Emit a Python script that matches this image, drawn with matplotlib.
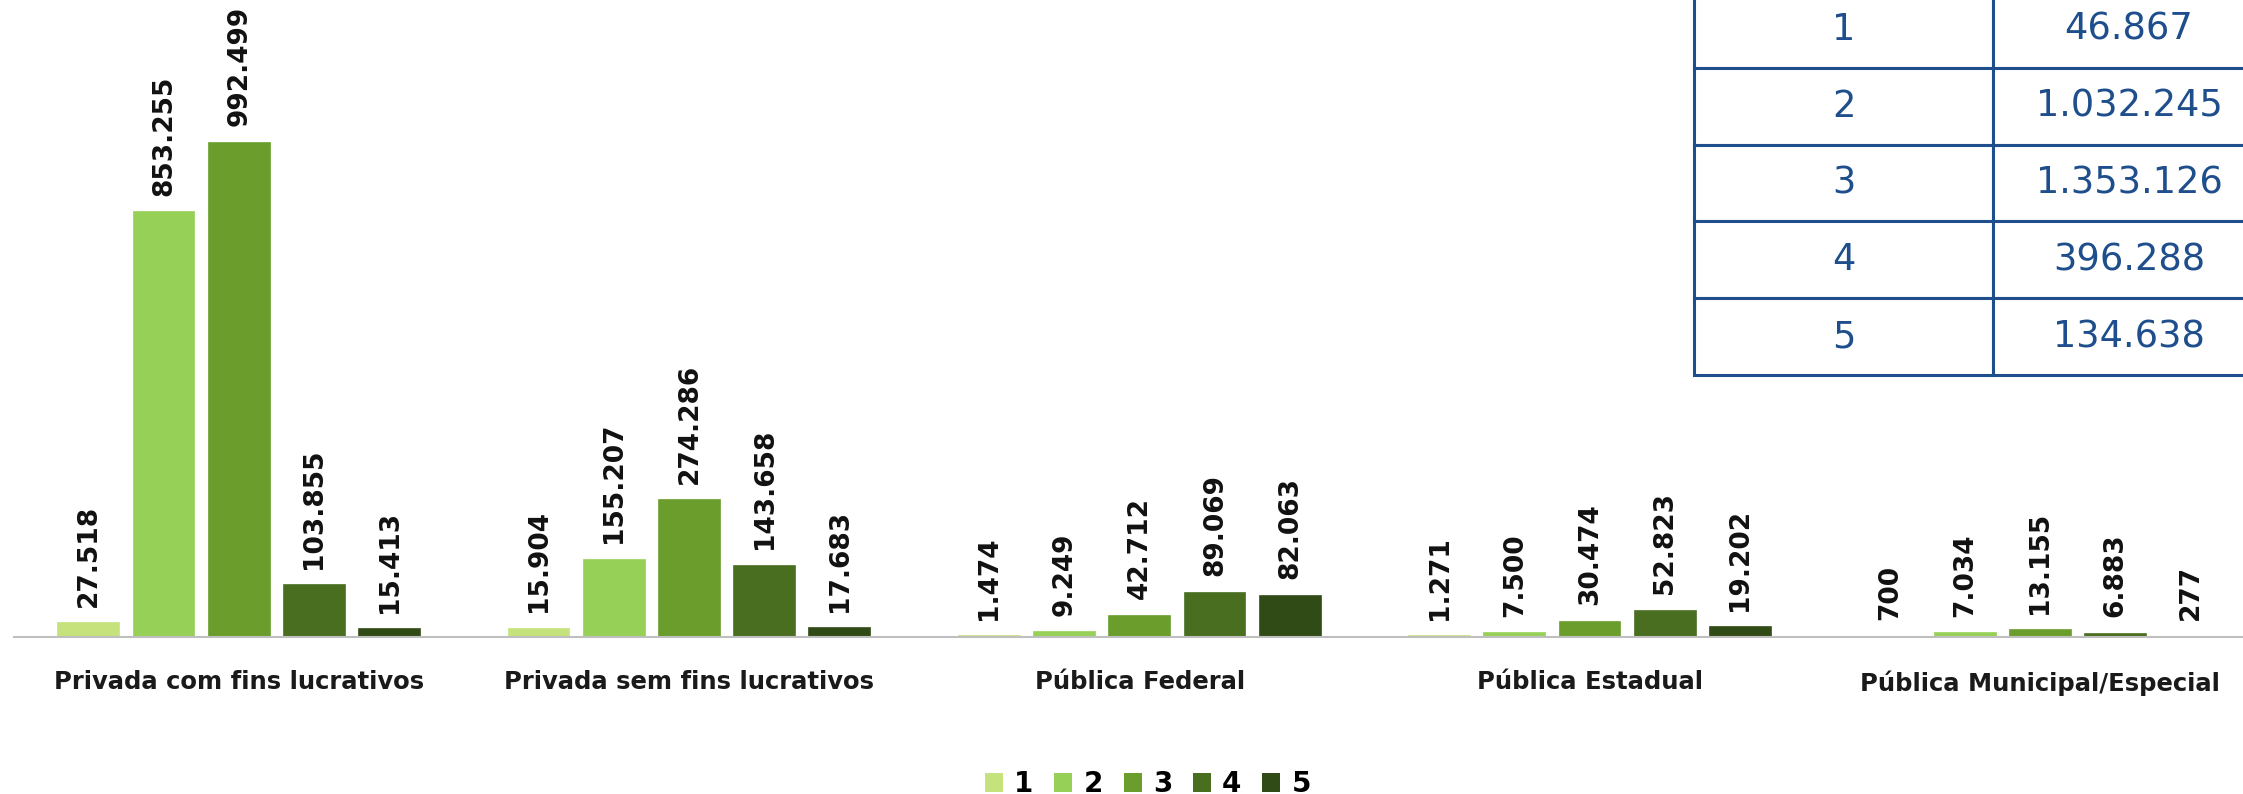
import numpy as np
import matplotlib.pyplot as plt
from matplotlib.patches import Patch

# data
categories = ['Privada com fins lucrativos', 'Privada sem fins lucrativos',
              'Pública Federal', 'Pública Estadual', 'Pública Municipal/Especial']
series_names = ['1', '2', '3', '4', '5']
s1 = [27518, 15904, 1474, 1271, 700]
s2 = [853255, 155207, 9249, 7500, 7034]
s3 = [992499, 274286, 42712, 30474, 13155]
s4 = [103855, 143658, 89069, 52823, 6883]
s5 = [15413, 17683, 82063, 19202, 277]
series = [s1, s2, s3, s4, s5]
colors = ['#C6E27C', '#97D056', '#6A9D2B', '#496E20', '#314B16']

fmt = lambda v: f"{v:,}".replace(",", ".")

W, H = 2243, 794
fig = plt.figure(figsize=(W / 100, H / 100), dpi=100)
fig.patch.set_facecolor('white')

ax = fig.add_axes([14 / W, 1 - 637 / H, 1 - 14 / W, 637 / H])
x = np.arange(len(categories))
step, width = 0.167, 0.135

for i, vals in enumerate(series):
    xs = x + (i - 2) * step
    ax.bar(xs, vals, width=width, color=colors[i], edgecolor=colors[i],
           linewidth=1.2, zorder=2)
    for xi, v in zip(xs, vals):
        ax.annotate(fmt(v), (xi, v), xytext=(0, 12), textcoords='offset points',
                    rotation=90, ha='center', va='bottom',
                    fontsize=19, fontweight='bold', color='#111111')

ax.set_xlim(-0.5, 4.45)
ax.set_ylim(0, 1.28e6)
for s in ['top', 'right', 'left']:
    ax.spines[s].set_visible(False)
ax.spines['bottom'].set_color('#BFBFBF')
ax.spines['bottom'].set_linewidth(1.5)
ax.set_yticks([])
ax.set_xticks(x)
ax.set_xticklabels(categories, fontsize=17.5, fontweight='bold', color='#1a1a1a')
ax.tick_params(axis='x', length=0, pad=24)
ax.patch.set_alpha(0)

# legend
handles = [Patch(facecolor=c) for c in colors]
fig.legend(handles, series_names, loc='center', bbox_to_anchor=(1148 / W, 10 / H),
           ncol=5, frameon=False, prop={'weight': 'bold', 'size': 20},
           handlelength=0.65, handleheight=0.65, handletextpad=0.4,
           columnspacing=0.75, borderpad=0)

# totals table
totals = [fmt(sum(v)) for v in series]
tab_ax = fig.add_axes([1694 / W, 1 - 375 / H, 571 / W, 384 / H])
tab_ax.axis('off')
tbl = tab_ax.table(cellText=[[n, t] for n, t in zip(series_names, totals)],
                   colWidths=[299 / 571, 272 / 571], cellLoc='center',
                   bbox=[0, 0, 1, 1])
tbl.auto_set_font_size(False)
for cell in tbl.get_celld().values():
    cell.set_edgecolor('#1F4E8C')
    cell.set_linewidth(2.2)
    cell.set_facecolor('white')
    cell.get_text().set_fontsize(26.5)
    cell.get_text().set_color('#1F4E8C')

fig.savefig('out.png', dpi=100)
